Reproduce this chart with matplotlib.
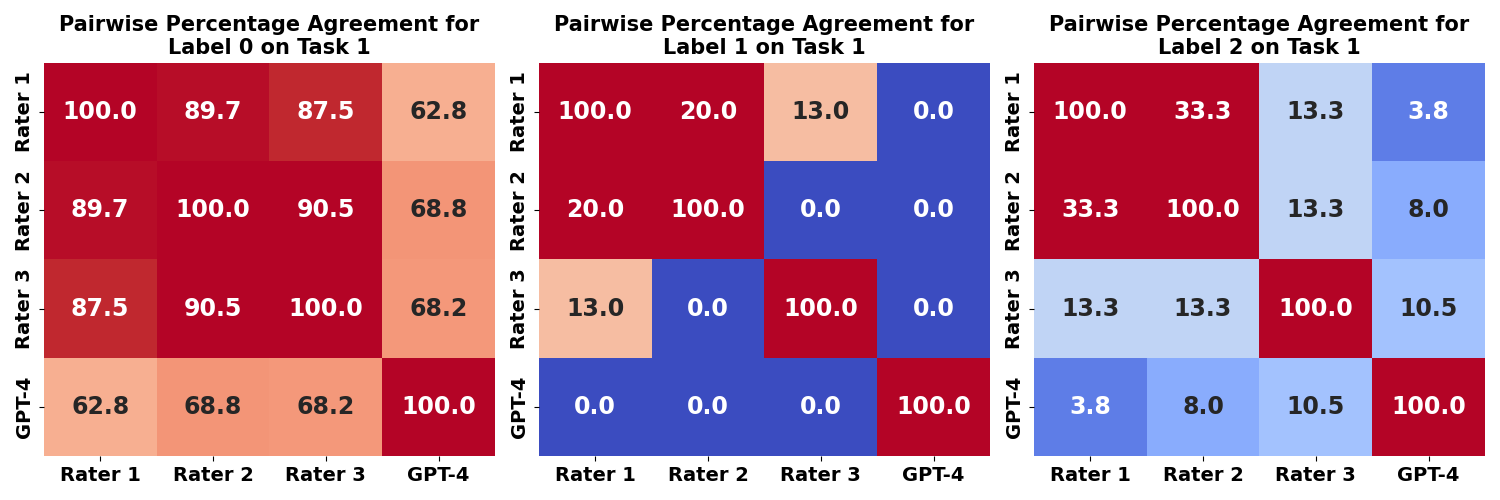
import numpy as np
import matplotlib
matplotlib.use("Agg")
import matplotlib.pyplot as plt
import seaborn as sns

labels = ["Rater 1", "Rater 2", "Rater 3", "GPT-4"]
titles = ["Pairwise Percentage Agreement for\nLabel 0 on Task 1",
          "Pairwise Percentage Agreement for\nLabel 1 on Task 1",
          "Pairwise Percentage Agreement for\nLabel 2 on Task 1"]
label0 = [[100.0, 89.7, 87.5, 62.8],
          [89.7, 100.0, 90.5, 68.8],
          [87.5, 90.5, 100.0, 68.2],
          [62.8, 68.8, 68.2, 100.0]]
label1 = [[100.0, 20.0, 13.0, 0.0],
          [20.0, 100.0, 0.0, 0.0],
          [13.0, 0.0, 100.0, 0.0],
          [0.0, 0.0, 0.0, 100.0]]
label2 = [[100.0, 33.3, 13.3, 3.8],
          [33.3, 100.0, 13.3, 8.0],
          [13.3, 13.3, 100.0, 10.5],
          [3.8, 8.0, 10.5, 100.0]]

fig, axes = plt.subplots(1, 3, figsize=(15, 5), dpi=100)
for ax, data, title in zip(axes, [label0, label1, label2], titles):
    arr = np.array(data)
    off = arr[~np.eye(len(arr), dtype=bool)]
    sns.heatmap(arr, ax=ax, cmap="coolwarm", vmin=0, vmax=off.max(), cbar=False,
                annot=True, fmt=".1f", annot_kws={"size": 17, "weight": "bold"},
                xticklabels=labels, yticklabels=labels)
    ax.set_title(title, fontsize=15, fontweight="bold")
    ax.set_xticklabels(labels, fontsize=14, fontweight="bold", rotation=0)
    ax.set_yticklabels(labels, fontsize=14, fontweight="bold", rotation=90, va="center")
plt.tight_layout()
plt.savefig("out.png")
